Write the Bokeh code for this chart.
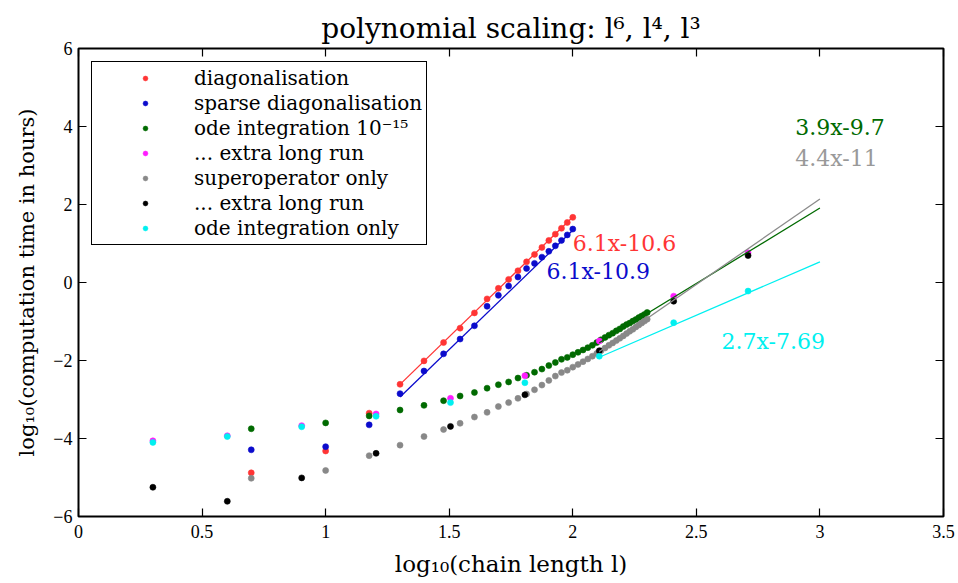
import numpy as np
from bokeh.plotting import figure
from bokeh.models import Range1d, FixedTicker, LinearAxis, Legend
from bokeh.core.properties import value
from bokeh.embed import file_html
from bokeh.resources import INLINE

# chain lengths l (x axis shows log10 l)
l_dense = [5, 10, 15, 20, 25, 30, 35, 40, 45, 50, 55, 60, 65, 70, 75, 80, 85, 90, 95, 100]
l_ode = [5, 10, 15, 20, 25, 30, 35, 40, 45, 50, 55, 60, 65, 70, 75, 80, 85, 90, 95, 100,
         105, 110, 115, 120, 125, 130, 135, 140, 145, 150, 155, 160, 165, 170, 175, 180,
         185, 190, 195, 200]
l_pow2 = [2, 4, 8, 16, 32, 64, 128, 256, 512]

# log10 of computation time in hours
t_diag = [-4.88, -4.32, -3.35, -2.61, -2.01, -1.54, -1.17, -0.78, -0.42, -0.15,
          0.08, 0.30, 0.53, 0.72, 0.90, 1.08, 1.24, 1.39, 1.54, 1.67]
t_sparse = [-4.29, -4.21, -3.65, -2.85, -2.27, -1.83, -1.45, -1.11, -0.61, -0.33,
            -0.09, 0.14, 0.36, 0.49, 0.65, 0.80, 0.94, 1.08, 1.22, 1.37]
t_ode = [-3.75, -3.60, -3.42, -3.27, -3.15, -3.03, -2.91, -2.82, -2.71, -2.62,
         -2.55, -2.45, -2.38, -2.30, -2.22, -2.13, -2.05, -1.97, -1.92, -1.85,
         -1.79, -1.73, -1.67, -1.61, -1.54, -1.47, -1.41, -1.35, -1.30, -1.24,
         -1.19, -1.13, -1.08, -1.04, -0.99, -0.95, -0.90, -0.86, -0.82, -0.77]
t_ode_long = [-4.06, -3.93, -3.67, -3.37, -2.97, -2.39, -1.50, -0.35, 0.76]
t_super = [-5.02, -4.82, -4.44, -4.17, -3.95, -3.77, -3.61, -3.45, -3.33, -3.18,
           -3.08, -2.97, -2.86, -2.75, -2.63, -2.51, -2.40, -2.31, -2.25, -2.17,
           -2.10, -2.03, -1.96, -1.89, -1.82, -1.75, -1.68, -1.61, -1.55, -1.49,
           -1.43, -1.37, -1.31, -1.25, -1.20, -1.14, -1.09, -1.04, -0.99, -0.94]
t_super_long = [-5.25, -5.61, -5.01, -4.38, -3.69, -2.88, -1.75, -0.48, 0.69]
t_ode_only = [-4.10, -3.95, -3.70, -3.43, -3.08, -2.57, -1.89, -1.03, -0.22]

# linear fits: slope, intercept, x span, label
fit_slope = [6.14, 6.12, 3.87, 4.38, 2.74]
fit_icpt = [-10.6, -10.9, -9.7, -11.0, -7.69]
fit_x0 = [1.30103, 1.30103, 2.10721, 2.10721, 2.10721]
fit_x1 = [2.0, 2.0, 3.0, 3.0, 3.0]
fit_text = ["6.1x-10.6", "6.1x-10.9", "3.9x-9.7", "4.4x-11", "2.7x-7.69"]
fit_lx = [2.0, 1.894, 2.90, 2.90, 2.602]
fit_ly = [1.0, 0.28, 3.97, 3.18, -1.51]

RED, BLUE, GREEN, MAG, GRAY, BLACK, CYAN = ("#ff3535", "#0b0bcc", "#006a00", "#ff1cff",
                                            "#888888", "#000000", "#00f0f0")
fit_colors = [RED, BLUE, GREEN, "#8a8a8a", CYAN]
fit_text_colors = [RED, BLUE, GREEN, "#999999", CYAN]

SERIF = "DejaVu Serif"
TIMES = "Liberation Serif"

p = figure(width=958, height=583, output_backend="svg", toolbar_location=None,
           x_range=Range1d(0, 3.5), y_range=Range1d(-6, 6),
           min_border_left=78, min_border_right=15, min_border_top=48, min_border_bottom=67,
           title="polynomial scaling: l\u2076, l\u2074, l\u00b3")
p.title.align = "center"
p.title.vertical_align = "middle"
p.title.text_font = SERIF
p.title.text_font_size = "28px"
p.title.text_font_style = "normal"
p.title.text_color = "black"
p.title.offset = 0
p.title.standoff = 6

p.background_fill_color = "white"
p.border_fill_color = "white"
p.grid.grid_line_color = None
p.outline_line_color = "black"
p.outline_line_width = 2
p.outline_line_alpha = 1

xt = FixedTicker(ticks=[0, 0.5, 1, 1.5, 2, 2.5, 3, 3.5])
yt = FixedTicker(ticks=[-6, -4, -2, 0, 2, 4, 6])

for ax in (p.xaxis[0], p.yaxis[0]):
    ax.major_tick_in = 8
    ax.major_tick_out = 0
    ax.minor_tick_line_color = None
    ax.major_tick_line_width = 1.2
    ax.axis_line_color = None
    ax.major_label_text_font = TIMES
    ax.major_label_text_font_size = "18px"
    ax.axis_label_text_font = SERIF
    ax.axis_label_text_font_style = "normal"
    ax.axis_label_text_color = "black"
    ax.major_label_text_color = "black"
p.xaxis[0].ticker = xt
p.yaxis[0].ticker = yt
p.xaxis[0].axis_label = "log\u2081\u2080(chain length l)"
p.yaxis[0].axis_label = "log\u2081\u2080(computation time in hours)"
p.xaxis[0].axis_label_text_font_size = "23px"
p.yaxis[0].axis_label_text_font_size = "21px"
p.xaxis[0].axis_label_standoff = 10
p.yaxis[0].axis_label_standoff = 11
p.xaxis[0].major_label_standoff = 8
p.yaxis[0].major_label_standoff = 6
p.yaxis[0].major_label_overrides = {-6: "\u22126", -4: "\u22124", -2: "\u22122",
                                    0: "0", 2: "2", 4: "4", 6: "6"}

top = LinearAxis(ticker=xt, major_tick_in=8, major_tick_out=0, minor_tick_line_color=None,
                 axis_line_color=None, major_label_text_color=None, major_tick_line_width=1.2)
right = LinearAxis(ticker=yt, major_tick_in=8, major_tick_out=0, minor_tick_line_color=None,
                   axis_line_color=None, major_label_text_color=None, major_tick_line_width=1.2)
p.add_layout(top, "above")
p.add_layout(right, "right")

lx = np.log10(l_dense)
lo = np.log10(l_ode)
lp = np.log10(l_pow2)

S = 6
series = [
    ("diagonalisation", lx, t_diag, RED),
    ("sparse diagonalisation", lx, t_sparse, BLUE),
    ("ode integration 10\u207b\u00b9\u2075", lo, t_ode, GREEN),
    ("... extra long run", lp, t_ode_long, MAG),
    ("superoperator only", lo, t_super, GRAY),
    ("... extra long run", lp, t_super_long, BLACK),
    ("ode integration only", lp, t_ode_only, CYAN),
]

items = []
for label, xs, ys, col in series:
    r = p.scatter(xs, ys, size=S, fill_color=col, line_color=col, line_width=0.6)
    items.append((label, [r]))

for k in range(len(fit_slope)):
    xs = np.array([fit_x0[k], fit_x1[k]])
    ys = fit_slope[k] * xs + fit_icpt[k]
    p.line(xs, ys, line_color=fit_colors[k], line_width=1.3)
    p.text(x=[fit_lx[k]], y=[fit_ly[k]], text=[fit_text[k]], text_color=fit_text_colors[k],
           text_font=value(SERIF), text_font_size="22px", text_align="left",
           text_baseline="middle")

# legend marker size follows the key box (0.4 * smaller side), so a short box gives small dots
legend = Legend(items=items, location="top_left")
legend.margin = 13
legend.padding = 4
legend.spacing = 1
legend.glyph_width = 98
legend.glyph_height = 12
legend.label_height = 20
legend.label_standoff = 0
legend.label_text_font = SERIF
legend.label_text_font_size = "20px"
legend.label_text_color = "black"
legend.border_line_color = "black"
legend.border_line_width = 1.5
legend.border_line_alpha = 1
legend.background_fill_alpha = 1
p.add_layout(legend, "center")

open("out.html", "w").write(file_html(p, INLINE))
